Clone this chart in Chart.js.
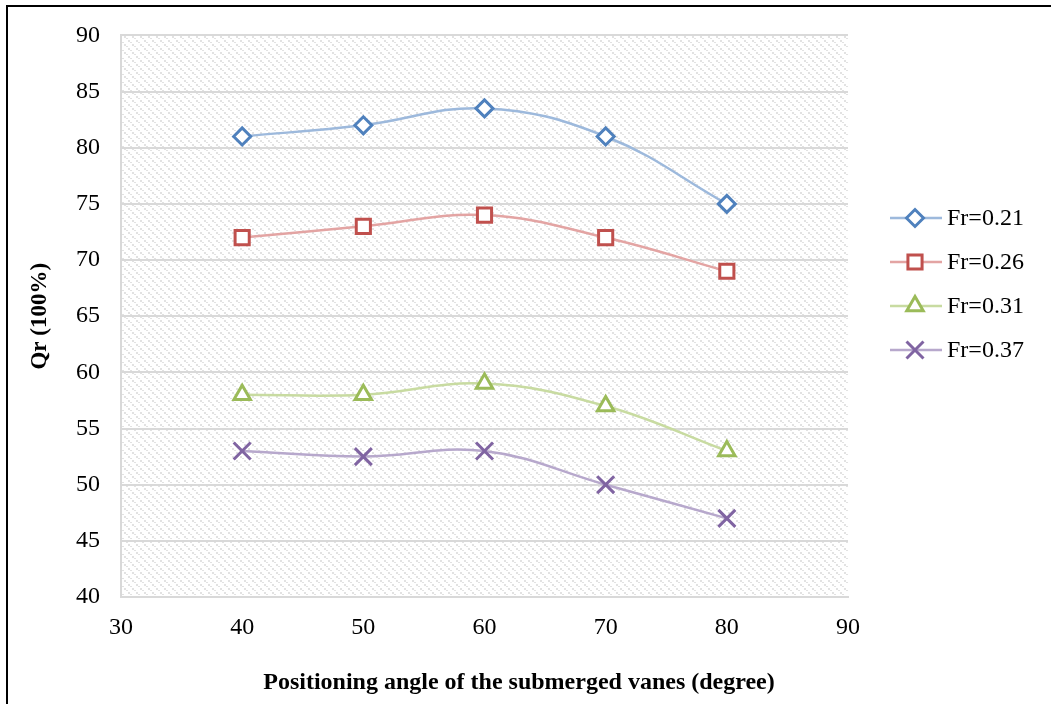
<!DOCTYPE html>
<html>
<head>
<meta charset="utf-8">
<script src="https://cdn.jsdelivr.net/npm/chart.js@4"></script>
<style>
  body { margin: 0; background: #fff; }
  #wrap { position: relative; width: 1051px; height: 704px; overflow: hidden; }
  #frame { position: absolute; left: 6px; top: 5px; width: 1200px; height: 900px; border: 2px solid #000; box-sizing: border-box; }
  canvas { position: absolute; left: 0; top: 0; }
</style>
</head>
<body>
<div id="wrap">
  <div id="frame"></div>
  <canvas id="chart" width="1051" height="704"></canvas>
</div>
<script>
const angles = [40, 50, 60, 70, 80];
const seriesNames = ['Fr=0.21', 'Fr=0.26', 'Fr=0.31', 'Fr=0.37'];
const fr021 = [81, 82, 83.5, 81, 75];
const fr026 = [72, 73, 74, 72, 69];
const fr031 = [58, 58, 59, 57, 53];
const fr037 = [53, 52.5, 53, 50, 47];
const xTicks = [30, 40, 50, 60, 70, 80, 90];
const yTicks = [40, 45, 50, 55, 60, 65, 70, 75, 80, 85, 90];
const xTitle = 'Positioning angle of the submerged vanes (degree)';

const markColors = ['#4F81BD', '#C0504D', '#9BBB59', '#8064A2'];
const lineColors = ['#9DB9DC', '#E3A4A3', '#C8DBA1', '#B7A8CC'];
const styles = ['rectRot', 'rect', 'triangle', 'crossRot'];
const radii = [8.5, 10, 9.5, 12];
const allValues = [fr021, fr026, fr031, fr037];

// light dotted diagonal hatch like the office "light downward diagonal" fill
function hatch() {
    const c = document.createElement('canvas');
    c.width = 8; c.height = 8;
    const g = c.getContext('2d');
    g.fillStyle = '#ffffff';
    g.fillRect(0, 0, 8, 8);
    g.fillStyle = '#e2e2e2';
    g.fillRect(0, 0, 2, 2);
    g.fillRect(2, 2, 2, 1);
    g.fillRect(4, 4, 2, 2);
    g.fillRect(6, 6, 2, 1);
    return g.createPattern(c, 'repeat');
}

const bgPlugin = {
    id: 'hatchBg',
    beforeDraw(chart) {
        const a = chart.chartArea;
        const ctx = chart.ctx;
        ctx.save();
        ctx.fillStyle = hatch();
        ctx.fillRect(a.left, a.top, a.right - a.left, a.bottom - a.top);
        ctx.restore();
    }
};

// legend with a short line through the marker, plus the x axis title (it is centred wider than the plot)
const legendPlugin = {
    id: 'lineLegend',
    afterDraw(chart) {
        const ctx = chart.ctx;
        const x0 = 890, y0 = 218, gap = 44;
        ctx.save();
        chart.data.datasets.forEach((ds, i) => {
            const y = y0 + i * gap;
            ctx.strokeStyle = ds.borderColor;
            ctx.lineWidth = 2.5;
            ctx.beginPath();
            ctx.moveTo(x0, y);
            ctx.lineTo(x0 + 52, y);
            ctx.stroke();
            ctx.fillStyle = '#fff';
            ctx.strokeStyle = ds.pointBorderColor;
            ctx.lineWidth = 3;
            Chart.helpers.drawPoint(ctx, { pointStyle: ds.pointStyle, radius: ds.pointRadius, borderWidth: 3 }, x0 + 25, y);
            ctx.fillStyle = '#000';
            ctx.font = '24px "Liberation Serif"';
            ctx.textBaseline = 'middle';
            ctx.textAlign = 'left';
            ctx.fillText(ds.label, x0 + 57, y + 1);
        });
        ctx.font = 'bold 24px "Liberation Serif"';
        ctx.textAlign = 'center';
        ctx.textBaseline = 'middle';
        ctx.fillStyle = '#000';
        ctx.fillText(xTitle, 519, 683);
        ctx.restore();
    }
};

new Chart(document.getElementById('chart'), {
    type: 'line',
    data: {
        datasets: seriesNames.map((name, i) => ({
            label: name,
            data: angles.map((a, j) => ({ x: a, y: allValues[i][j] })),
            borderColor: lineColors[i],
            borderWidth: 2.5,
            tension: 0.4,
            pointStyle: styles[i],
            pointRadius: radii[i],
            pointBorderWidth: 3,
            pointBorderColor: markColors[i],
            pointBackgroundColor: '#ffffff'
        }))
    },
    options: {
        responsive: false,
        animation: false,
        layout: { padding: { left: 0, top: 35, right: 203, bottom: 0 } },
        plugins: { legend: { display: false }, tooltip: { enabled: false } },
        scales: {
            x: {
                type: 'linear', min: 30, max: 90,
                afterBuildTicks: s => { s.ticks = xTicks.map(v => ({ value: v })); },
                grid: { display: false, drawTicks: false },
                border: { color: '#d9d9d9', width: 2 },
                ticks: { color: '#000', padding: 16, font: { family: 'Liberation Serif', size: 24 } },
                afterFit: s => { s.height = 107; }
            },
            y: {
                min: 40, max: 90,
                afterBuildTicks: s => { s.ticks = yTicks.map(v => ({ value: v })); },
                grid: { color: '#d9d9d9', lineWidth: 2, drawTicks: false },
                border: { color: '#d9d9d9', width: 2 },
                ticks: { color: '#000', padding: 21, font: { family: 'Liberation Serif', size: 24 } },
                title: { display: true, text: 'Qr (100%)', color: '#000', padding: { top: 26, bottom: 0 },
                         font: { family: 'Liberation Serif', size: 23, weight: 'bold' } },
                afterFit: s => { s.width = 121; }
            }
        }
    },
    plugins: [bgPlugin, legendPlugin]
});
</script>
</body>
</html>
